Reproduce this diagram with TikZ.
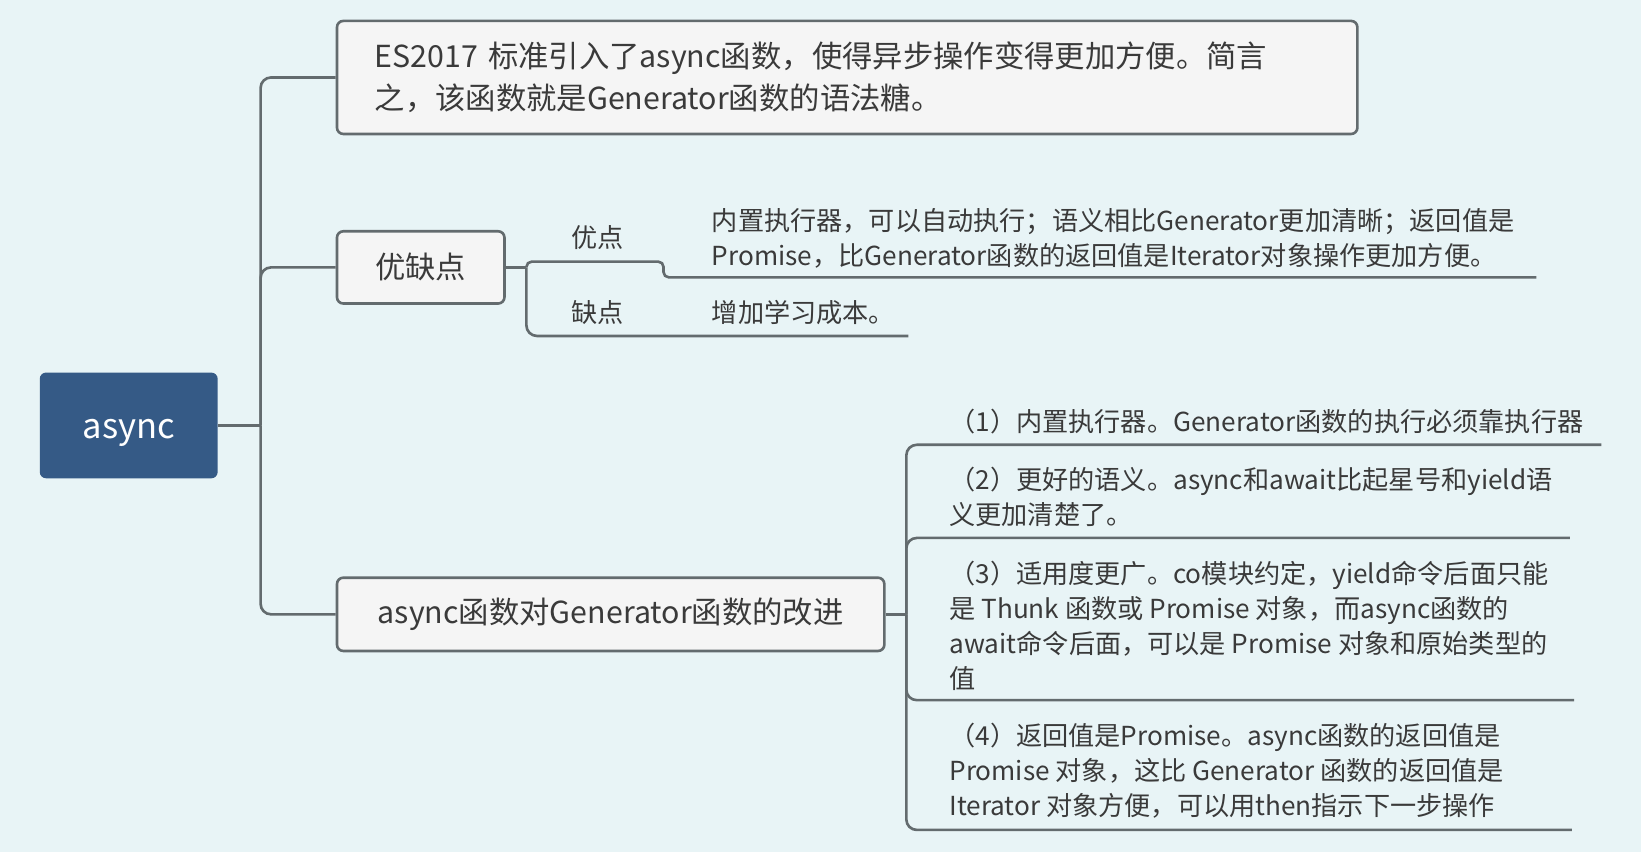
\documentclass[tikz,border=0pt]{standalone}
\usepackage{fontspec}
\setmainfont{Noto Sans CJK SC}
\definecolor{bg}{HTML}{E8F4F6}
\definecolor{boxfill}{HTML}{F5F5F5}
\definecolor{linec}{HTML}{636B6E}
\definecolor{txt}{HTML}{3A3A3A}
\definecolor{rootc}{HTML}{355A86}
\begin{document}
\begin{tikzpicture}[x=1pt,y=-1pt,
  box/.style={draw=linec, line width=2.5pt, fill=boxfill, rounded corners=6pt, text=txt, font=\fontsize{29}{40}\selectfont, inner sep=0pt},
  rootbox/.style={fill=rootc, rounded corners=6pt, text=white, font=\fontsize{33}{40}\selectfont, inner sep=0pt, text height=25pt, text depth=0pt},
  conn/.style={draw=linec, line width=2.5pt, rounded corners=10pt},
  smallconn/.style={draw=linec, line width=2.5pt, rounded corners=5pt},
  leaf/.style={text=txt, font=\fontsize{25}{33.5}\selectfont, align=left, inner sep=0pt, anchor=west},
  lab/.style={text=txt, font=\fontsize{25}{30}\selectfont, inner sep=0pt}]
\fill[bg] (0,0) rectangle (1568,814);
\useasboundingbox (0,0) rectangle (1568,814);

% main nodes
\node[rootbox, minimum width=170pt, minimum height=101pt] (root) at (123,406.5) {async};
\node[box, minimum width=975pt, minimum height=108pt, text width=903pt, align=left] (intro) at (809.5,74) {ES2017 标准引入了async函数，使得异步操作变得更加方便。简言\\之，该函数就是Generator函数的语法糖。};
\node[box, minimum width=160pt, minimum height=69pt] (pc) at (402,255.5) {优缺点};
\node[box, minimum width=523pt, minimum height=70pt] (imp) at (583.5,587) {async函数对Generator函数的改进};

% trunk
\coordinate (j0) at (249,406.5);
\draw[conn] (root.east) -- (j0);
\draw[conn] (j0) |- (intro.west);
\draw[conn] (j0) |- (pc.west);
\draw[conn] (j0) |- (imp.west);

% pros / cons
\coordinate (j1) at (503,255.5);
\coordinate (step) at (634,250);
\coordinate (proEnd) at (1468,265);
\coordinate (conEnd) at (868,321);
\draw[conn] (pc.east) -- (j1);
\draw[smallconn] (j1) |- (step) |- (proEnd);
\draw[conn] (j1) |- (conEnd);
\node[lab] (pro) at (571,227) {优点};
\node[lab] (con) at (571,299) {缺点};
\node[leaf] (protext) at (680,227.5) {内置执行器，可以自动执行；语义相比Generator更加清晰；返回值是\\Promise，比Generator函数的返回值是Iterator对象操作更加方便。};
\node[leaf] (context) at (680,299) {增加学习成本。};

% improvements
\coordinate (j2) at (866,587);
\coordinate (e1) at (1530,425);
\coordinate (e2) at (1500,514);
\coordinate (e3) at (1504,669);
\coordinate (e4) at (1502,793);
\draw[conn] (imp.east) -- (j2);
\draw[conn] (j2) |- (e1);
\draw[conn] (j2) |- (e2);
\draw[conn] (j2) |- (e3);
\draw[conn] (j2) |- (e4);
\node[leaf] (i1) at (907,403) {（1）内置执行器。Generator函数的执行必须靠执行器};
\node[leaf] (i2) at (907,475) {（2）更好的语义。async和await比起星号和yield语\\义更加清楚了。};
\node[leaf] (i3) at (907,598) {（3）适用度更广。co模块约定，yield命令后面只能\\是 Thunk 函数或 Promise 对象，而async函数的\\await命令后面，可以是 Promise 对象和原始类型的\\值};
\node[leaf] (i4) at (907,736.5) {（4）返回值是Promise。async函数的返回值是\\Promise 对象，这比 Generator 函数的返回值是\\Iterator 对象方便，可以用then指示下一步操作};
\end{tikzpicture}
\end{document}
